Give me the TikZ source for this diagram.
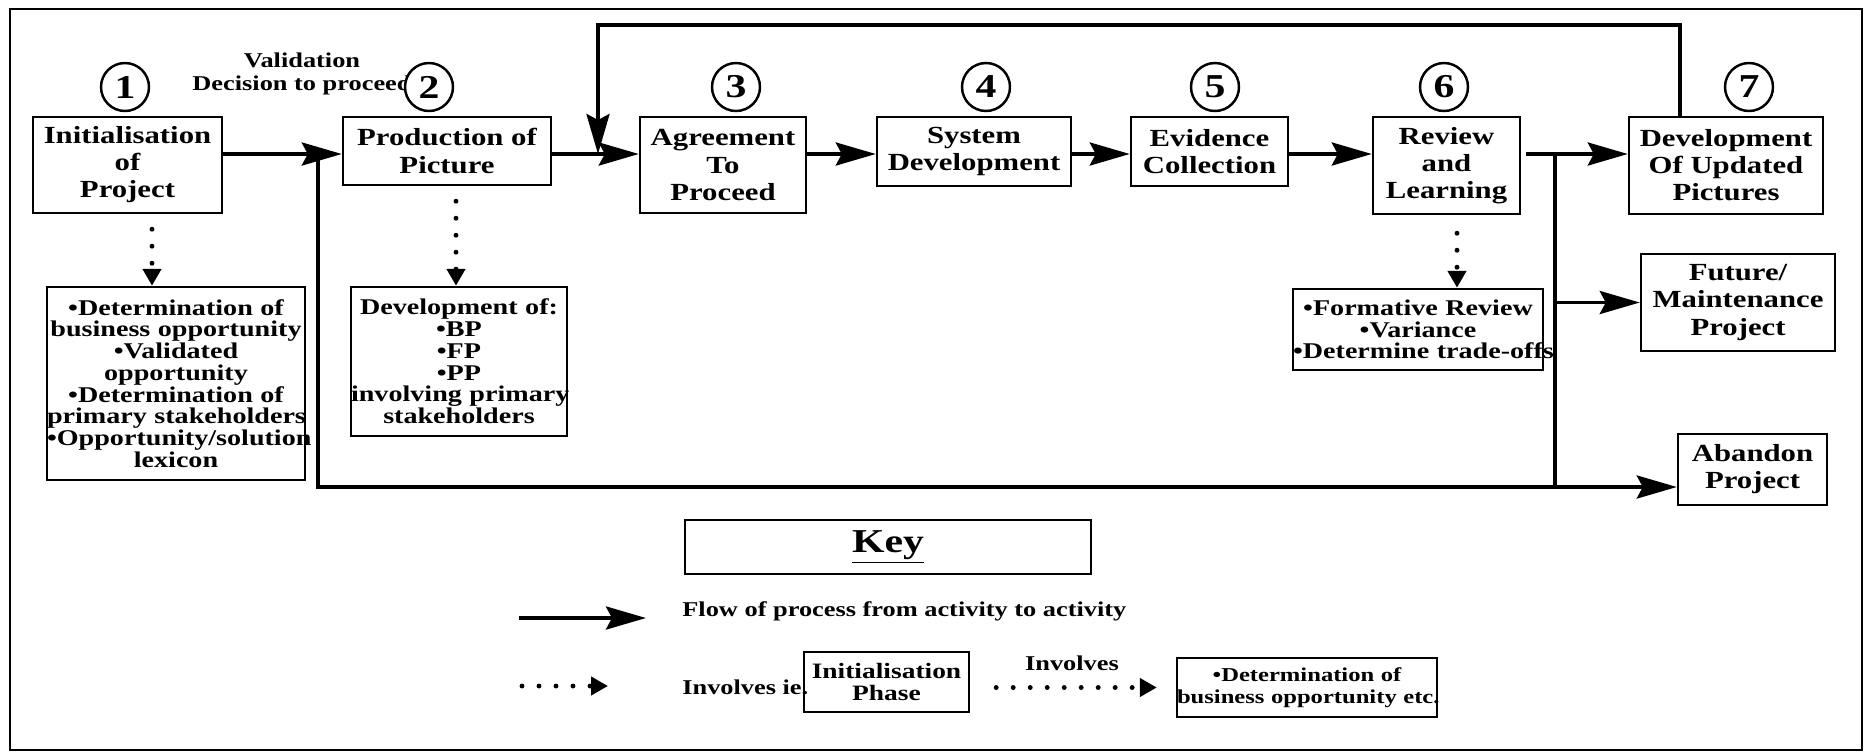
\documentclass[tikz,border=0pt]{standalone}
\usepackage{fontspec}
\setmainfont{Liberation Serif}[FakeStretch=1.25]
\usetikzlibrary{arrows.meta}

\tikzset{
  stage/.style={draw, line width=1.4pt, align=center, inner sep=0pt,
    font=\bfseries\fontsize{14}{15.4}\selectfont},
  detail/.style={draw, line width=1.4pt, align=center, inner sep=0pt,
    font=\bfseries\fontsize{12.8}{12.4}\selectfont},
  stepnum/.style={circle, draw, line width=1.4pt, fill=white, minimum size=0.96cm,
    inner sep=0pt, font=\bfseries\fontsize{19}{19}\selectfont},
  flow/.style={line width=2.2pt, -{Stealth[length=0.8cm, width=0.46cm, inset=0.12cm]}},
  involves/.style={line width=2.8pt, line cap=round, dash pattern=on 0pt off 0.34cm,
    -{Triangle[length=0.34cm, width=0.36cm]}},
  keytext/.style={font=\bfseries\fontsize{12}{13}\selectfont, align=center},
}

\begin{document}
\begin{tikzpicture}[x=0.02cm, y=-0.02cm]
\useasboundingbox (0,0) rectangle (1867,755);
% outer frame
\draw[line width=1.2pt] (10,9) rectangle (1862,750);

% Stages of the process - top row
\node[stage, minimum width=3.78cm, minimum height=1.92cm] (init) at (127.5,165) {Initialisation\\of\\Project};
\node[stage, minimum width=4.16cm, minimum height=1.36cm] (prod) at (447,151) {Production of\\Picture};
\node[stage, minimum width=3.32cm, minimum height=1.92cm] (agree) at (723,165) {Agreement\\To\\Proceed};
\node[stage, minimum width=3.88cm, minimum height=1.38cm] (sysdev) at (974,151.5) {System\\Development};
\node[stage, minimum width=3.14cm, minimum height=1.38cm] (evid) at (1209.5,151.5) {Evidence\\Collection};
\node[stage, minimum width=2.94cm, minimum height=1.94cm] (review) at (1446.5,165.5) {Review\\and\\Learning};
\node[stage, minimum width=3.88cm, minimum height=1.94cm] (updated) at (1726,165.5) {Development\\Of Updated\\Pictures};

% Outcomes on the right
\node[stage, minimum width=3.88cm, minimum height=1.94cm] (future) at (1738,302.5) {Future/\\Maintenance\\Project};
\node[stage, minimum width=2.98cm, minimum height=1.42cm] (abandon) at (1752.5,469.5) {Abandon\\Project};

% What each stage involves
\node[detail, text width=5.16cm, minimum height=3.86cm] (initdet) at (176,383.5)
  {\textbullet Determination of\\\mbox{business opportunity}\\\textbullet Validated\\opportunity\\\textbullet Determination of\\\mbox{primary stakeholders}\\\mbox{\textbullet Opportunity/solution}\\lexicon};
\node[detail, text width=4.32cm, minimum height=2.98cm] (proddet) at (459,361.5)
  {Development of:\\\textbullet BP\\\textbullet FP\\\textbullet PP\\\mbox{involving primary}\\stakeholders};
\node[detail, text width=5.0cm, minimum height=1.62cm] (reviewdet) at (1418,329.5)
  {\textbullet Formative Review\\\textbullet Variance\\\mbox{\textbullet Determine trade-offs}};

% Validation label, then the numbered circles over it
\node[keytext] (valid) at (302,74) {Validation\\Decision to proceed};
\foreach \n/\x in {1/125, 2/429, 3/736, 4/986, 5/1215, 6/1444, 7/1749}
  \node[stepnum] (num\n) at (\x,87) {\n};

% Flow of process
\coordinate (flowy) at (0,154);
\draw[flow] (init.east |- flowy) -- (prod.west |- flowy);
\draw[flow] (prod.east |- flowy) -- (agree.west |- flowy);
\draw[flow] (agree.east |- flowy) -- (sysdev.west |- flowy);
\draw[flow] (sysdev.east |- flowy) -- (evid.west |- flowy);
\draw[flow] (evid.east |- flowy) -- (review.west |- flowy);
\draw[flow, shorten <=0.1cm] (review.east |- flowy) -- (updated.west |- flowy);

% Loop back from updated pictures
\coordinate (loopx) at (598,0);
\coordinate (looptop) at (0,25);
\draw[flow] ([xshift=-0.92cm]updated.north) |- (loopx |- looptop) -- (loopx |- flowy);

% Branches to future and abandon
\coordinate (splitl) at (318,0);
\coordinate (splitr) at (1555,0);
\coordinate (abandony) at (0,487);
\draw[flow] (splitl |- flowy) |- (abandon.west |- abandony);
\draw[line width=2.2pt] (splitr |- flowy) -- (splitr |- abandony);
\draw[flow] (splitr |- future.west) -- (future.west);

% Involves arrows
\coordinate (initdot) at ([xshift=0.49cm]init.south);
\coordinate (proddot) at ([xshift=0.18cm]prod.south);
\coordinate (reviewdot) at ([xshift=0.21cm]review.south);
\draw[involves, shorten <=0.3cm] (initdot) -- (initdot |- initdet.north);
\draw[involves, shorten <=0.3cm] (proddot) -- (proddot |- proddet.north);
\draw[involves, shorten <=0.36cm] (reviewdot) -- (reviewdot |- reviewdet.north);

% Key
\node[draw, line width=1.4pt, minimum width=8.12cm, minimum height=1.08cm,
  font=\bfseries\fontsize{19}{20}\selectfont] (key) at (888,547) {\underline{Key}};
\coordinate (flowa) at (519,618);
\coordinate (flowb) at (646,618);
\draw[flow] (flowa) -- (flowb);
\node[keytext, anchor=west, inner sep=0pt] (flowlbl) at (682,611) {Flow of process from activity to activity};
\coordinate (inva) at (522,686);
\coordinate (invb) at (608,686);
\draw[involves] (inva) -- (invb);
\node[keytext, anchor=west, inner sep=0pt] (invlbl) at (682,687) {Involves ie.};
\node[stage, minimum width=3.3cm, minimum height=1.2cm,
  font=\bfseries\fontsize{12.5}{13}\selectfont] (phase) at (886.5,682) {Initialisation\\Phase};
\node[keytext] (invword) at (1072,663) {Involves};
\node[detail, text width=5.2cm, minimum height=1.18cm,
  font=\bfseries\fontsize{11.2}{12.4}\selectfont] (bizdet) at (1307,687.5)
  {\textbullet Determination of\\\mbox{business opportunity etc.}};
\draw[involves, shorten <=0.52cm, shorten >=0.38cm] (phase.east |- bizdet.west) -- (bizdet.west);

\end{tikzpicture}
\end{document}
